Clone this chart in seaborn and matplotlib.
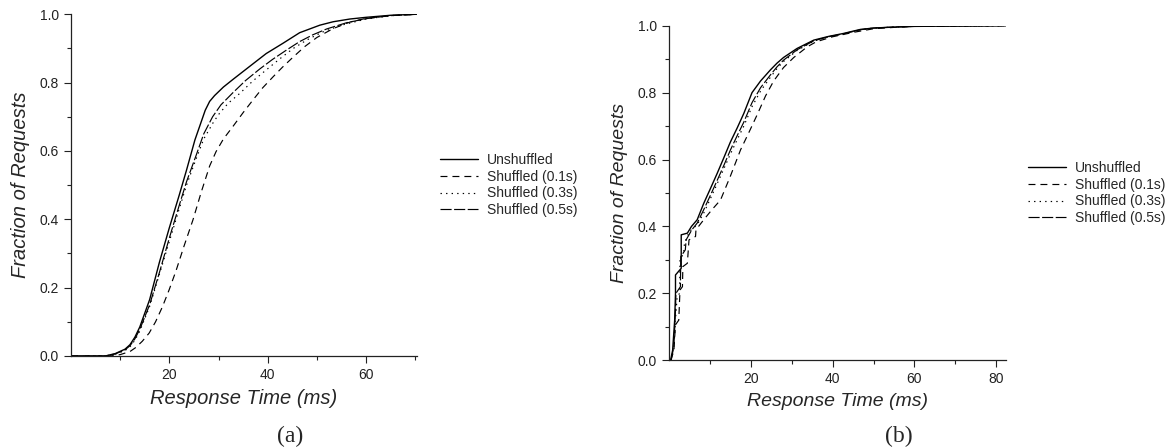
import matplotlib
matplotlib.use("Agg")
import matplotlib.pyplot as plt
from matplotlib.ticker import FixedLocator, MultipleLocator
import seaborn as sns

# ---------------------------------------------------------------- data
LABELS = ["Unshuffled", "Shuffled (0.1s)", "Shuffled (0.3s)", "Shuffled (0.5s)"]

# (a) response-time CDFs
a_unshuf_t = [0, 7, 9, 11, 12, 13, 14, 16, 18, 20, 22, 23.5, 25.2, 27.3, 28.2, 29.2, 31, 33,
              36.3, 39.7, 43.1, 46.5, 50.6, 53.3, 56.7, 60, 65, 70.3]
a_unshuf_f = [0, 0, 0.007, 0.02, 0.033, 0.055, 0.085, 0.165, 0.275, 0.375, 0.47, 0.544, 0.632,
              0.719, 0.745, 0.762, 0.787, 0.81, 0.847, 0.885, 0.915, 0.946, 0.968, 0.978, 0.986,
              0.991, 0.997, 1.0]
a_s01_t = [0, 8, 10, 12, 13.2, 14.5, 15.9, 17.2, 18.6, 20, 21.4, 23, 24.8, 26.5, 28.2, 29.5, 31,
           32.9, 35, 37, 39, 41.1, 43, 45.2, 47.5, 50, 53.3, 56.7, 60, 65, 70.3]
a_s01_f = [0, 0, 0.004, 0.013, 0.025, 0.043, 0.067, 0.1, 0.144, 0.195, 0.251, 0.322, 0.398, 0.48,
           0.556, 0.598, 0.635, 0.671, 0.712, 0.749, 0.785, 0.817, 0.845, 0.875, 0.905, 0.932,
           0.958, 0.977, 0.988, 0.996, 1.0]
a_s03_t = [0, 7, 9, 11, 12, 13, 14, 16, 18, 20, 22, 23.5, 25.4, 27, 29, 30.2, 32, 34.3, 37, 39.7,
           42.5, 45.2, 48, 51, 55, 60, 65, 70.3]
a_s03_f = [0, 0, 0.005, 0.016, 0.027, 0.046, 0.073, 0.145, 0.24, 0.335, 0.43, 0.5, 0.575, 0.635,
           0.685, 0.71, 0.74, 0.768, 0.805, 0.837, 0.87, 0.9, 0.925, 0.947, 0.968, 0.986, 0.996, 1.0]
a_s05_t = [0, 7, 9, 11, 12, 13, 14, 16, 18, 20, 22, 23.5, 25.4, 27, 28.8, 30.5, 32.9, 35.5, 38.4,
           41, 43.8, 46.5, 49.2, 52, 56, 60, 65, 70.3]
a_s05_f = [0, 0, 0.006, 0.018, 0.03, 0.05, 0.078, 0.15, 0.245, 0.345, 0.44, 0.51, 0.585, 0.65,
           0.7, 0.735, 0.77, 0.806, 0.84, 0.868, 0.895, 0.92, 0.94, 0.957, 0.975, 0.987, 0.996, 1.0]

# (b) response-time CDFs
b_unshuf_t = [0.4, 0.9, 1.4, 1.6, 1.6, 3.0, 3.0, 4.5, 5.5, 6.9, 8.5, 10.2, 11.8, 13.4, 15.0, 16.7,
              18.3, 20.3, 22.4, 24.8, 26.4, 28.0, 31.3, 35.4, 39.0, 42.7, 46.8, 50, 55, 60, 70, 82.3]
b_unshuf_f = [0, 0.03, 0.12, 0.2, 0.255, 0.275, 0.375, 0.38, 0.4, 0.42, 0.469, 0.515, 0.559, 0.605,
              0.652, 0.695, 0.738, 0.8, 0.835, 0.868, 0.888, 0.905, 0.932, 0.957, 0.968, 0.977,
              0.989, 0.993, 0.996, 0.998, 0.999, 1.0]
b_s01_t = [0.5, 1.2, 1.6, 2.4, 2.7, 3.3, 3.4, 4.5, 4.9, 6.5, 6.6, 8.5, 10.5, 12.6, 15, 17.5, 19.5,
           21.6, 23.6, 25.6, 28, 30.5, 33.8, 36, 40, 45, 50, 55, 60, 70, 82.3]
b_s01_f = [0, 0.03, 0.106, 0.12, 0.21, 0.22, 0.28, 0.29, 0.36, 0.37, 0.39, 0.42, 0.45, 0.479,
           0.55, 0.629, 0.68, 0.735, 0.79, 0.835, 0.875, 0.905, 0.937, 0.952, 0.967, 0.98, 0.991,
           0.995, 0.998, 0.999, 1.0]
b_s03_t = [0.5, 1.2, 1.7, 2.0, 2.6, 2.7, 3.6, 3.8, 5.0, 6.9, 8.5, 10.2, 11.8, 13.4, 15.0, 16.7,
           18.3, 20.3, 22.4, 24.8, 26.4, 28, 31.3, 35.4, 39, 42.7, 46.8, 50, 55, 60, 70, 82.3]
b_s03_f = [0, 0.035, 0.14, 0.19, 0.2, 0.3, 0.32, 0.35, 0.385, 0.405, 0.44, 0.485, 0.528, 0.572,
           0.616, 0.66, 0.7, 0.758, 0.805, 0.846, 0.872, 0.893, 0.926, 0.954, 0.967, 0.976, 0.988,
           0.993, 0.996, 0.998, 0.999, 1.0]
b_s05_t = [0.5, 1.2, 1.6, 1.7, 2.8, 2.9, 4.0, 4.2, 5.6, 6.9, 8.5, 10.2, 11.8, 13.4, 15.0, 16.7,
           18.3, 20.3, 22.4, 24.8, 26.4, 28, 31.3, 35.4, 39, 42.7, 46.8, 50, 55, 60, 70, 82.3]
b_s05_f = [0, 0.04, 0.15, 0.2, 0.22, 0.31, 0.33, 0.36, 0.39, 0.41, 0.45, 0.495, 0.538, 0.582,
           0.628, 0.672, 0.712, 0.77, 0.815, 0.853, 0.877, 0.897, 0.928, 0.955, 0.967, 0.976,
           0.988, 0.993, 0.996, 0.998, 0.999, 1.0]

# ---------------------------------------------------------------- style
sns.set_style("ticks")
plt.rcParams["font.family"] = ["Liberation Sans", "DejaVu Sans"]
plt.rcParams["lines.scale_dashes"] = False

LINESTYLES = ["-", (0, (5.0, 3.6)), (0, (1.0, 3.0)), (0, (8.0, 1.8))]
WIDTHS = [1.0, 0.85, 0.85, 0.85]

fig = plt.figure(figsize=(11.65, 4.48), dpi=100)
ax_a = fig.add_axes([0.0609, 0.2054, 0.2968, 0.7628])
ax_b = fig.add_axes([0.5742, 0.1958, 0.2891, 0.7468])


def draw_panel(ax, curves, xmax, xmajor, tick_fs, label_fs, legend_xy):
    for (t, f), name, ls, lw in zip(curves, LABELS, LINESTYLES, WIDTHS):
        sns.lineplot(x=t, y=f, ax=ax, color="black", linestyle=ls, linewidth=lw,
                     estimator=None, sort=False, label=name)
    ax.set_xlim(0, xmax)
    ax.set_ylim(0, 1.0)
    ax.xaxis.set_major_locator(FixedLocator(xmajor))
    ax.xaxis.set_minor_locator(FixedLocator([10, 30, 50, 70]))
    ax.yaxis.set_major_locator(MultipleLocator(0.2))
    ax.yaxis.set_minor_locator(MultipleLocator(0.1))
    ax.tick_params(which="major", length=5, width=0.8, pad=3.5, labelsize=tick_fs,
                   color="#222222", labelcolor="#222222")
    ax.tick_params(which="minor", length=2.8, width=0.8, color="#222222")
    for side in ("top", "right"):
        ax.spines[side].set_visible(False)
    for side in ("left", "bottom"):
        ax.spines[side].set_linewidth(0.9)
        ax.spines[side].set_color("#222222")
    ax.set_xlabel("Response Time (ms)", fontsize=label_fs, style="italic", labelpad=5)
    ax.set_ylabel("Fraction of Requests", fontsize=label_fs, style="italic", labelpad=7)
    ax.legend(loc="center left", bbox_to_anchor=legend_xy, bbox_transform=fig.transFigure,
              frameon=False, fontsize=10, handlelength=2.75, handletextpad=0.6,
              labelspacing=0.2, borderpad=0, borderaxespad=0)


draw_panel(ax_a,
           [(a_unshuf_t, a_unshuf_f), (a_s01_t, a_s01_f), (a_s03_t, a_s03_f), (a_s05_t, a_s05_f)],
           70.3, [20, 40, 60], 10, 14.5, (0.3777, 0.587))
draw_panel(ax_b,
           [(b_unshuf_t, b_unshuf_f), (b_s01_t, b_s01_f), (b_s03_t, b_s03_f), (b_s05_t, b_s05_f)],
           82.3, [20, 40, 60, 80], 10, 14, (0.8824, 0.569))

fig.text(290 / 1165, 0.003, "(a)", family="Liberation Serif", fontsize=17, ha="center",
         va="bottom")
fig.text(899 / 1165, 0.003, "(b)", family="Liberation Serif", fontsize=17, ha="center",
         va="bottom")

fig.savefig("out.png", dpi=100)
